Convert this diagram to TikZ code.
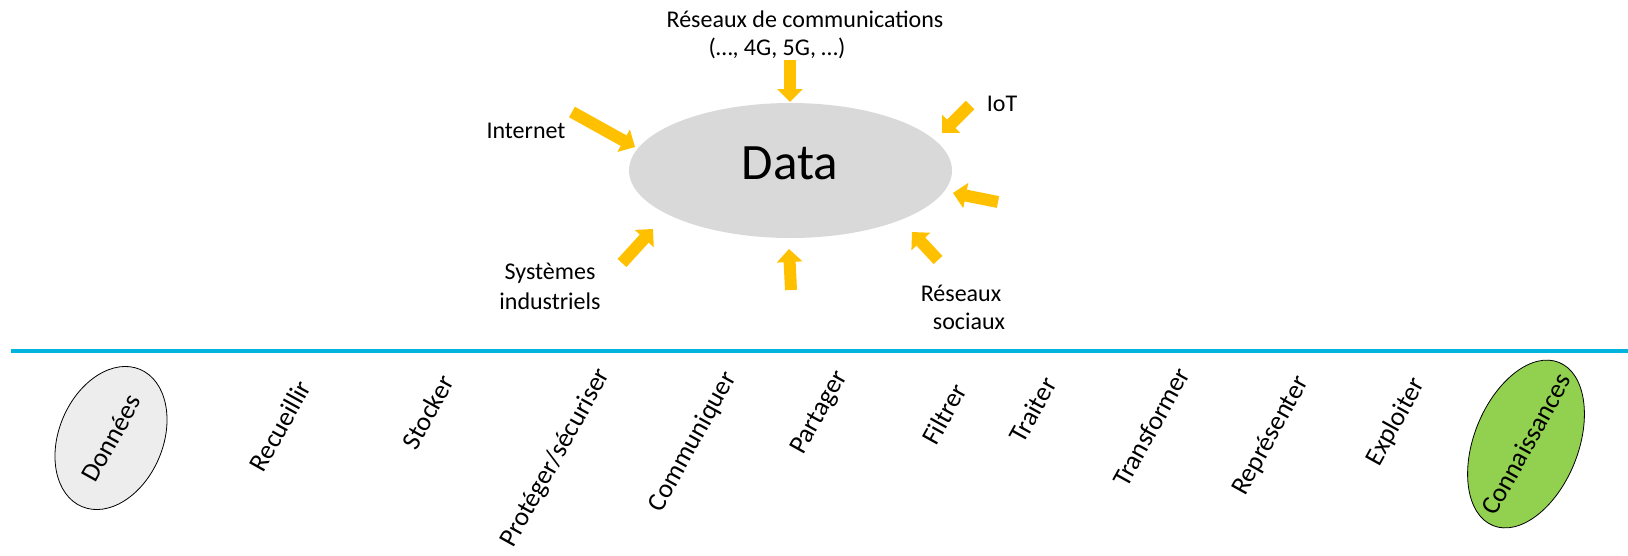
\documentclass[tikz,border=0pt]{standalone}
\usepackage{fontspec}
\setmainfont{Carlito}
\usetikzlibrary{shapes.geometric,arrows.meta}
\definecolor{arrowyellow}{RGB}{255,192,0}
\definecolor{datagray}{RGB}{217,217,217}
\definecolor{dongray}{RGB}{237,237,237}
\definecolor{conngreen}{RGB}{146,208,80}
\definecolor{lineblue}{RGB}{0,180,222}
\tikzset{
  lbl/.style={inner sep=0pt, font=\fontsize{24}{29}\selectfont},
  vlbl/.style={inner sep=0pt, rotate=61, font=\fontsize{26.5}{31}\selectfont},
  feed/.style={draw=arrowyellow, line width=12pt, -{Triangle[length=13pt,width=25pt,fill=arrowyellow]}},
}
\begin{document}
\begin{tikzpicture}[x=1pt,y=-1pt]
\useasboundingbox (0,0) rectangle (1628,555);
% central ellipse
\node[ellipse, fill=datagray, inner sep=0pt, minimum width=323pt, minimum height=135pt] (data) at (790.5,170.5) {};
\node[inner sep=0pt, font=\fontsize{51}{60}\selectfont] (datatxt) at (790,163) {Data};
% source labels
\node[lbl] (res1) at (805,19) {Réseaux de communications};
\node[lbl] (res2) at (777,48) {(…, 4G, 5G, …)};
\node[lbl] (internet) at (526,131) {Internet};
\node[lbl] (iot) at (1002,104) {IoT};
\node[lbl] (sys1) at (550,273) {Systèmes};
\node[lbl] (sys2) at (550,301) {industriels};
\node[lbl] (soc1) at (961,293) {Réseaux};
\node[lbl] (soc2) at (969,321) {sociaux};
% arrow ends
\coordinate (a1t) at (790,60);   \coordinate (a1h) at (790,102);
\coordinate (a2t) at (572,112);  \coordinate (a2h) at (635,147);
\coordinate (a3t) at (970,105);  \coordinate (a3h) at (942,133);
\coordinate (a4t) at (998,202);  \coordinate (a4h) at (953,193);
\coordinate (a5t) at (938,260);  \coordinate (a5h) at (912,232);
\coordinate (a6t) at (791,290);  \coordinate (a6h) at (789,249);
\coordinate (a7t) at (622,263);  \coordinate (a7h) at (653,229);
\foreach \i in {1,...,7} { \draw[feed] (a\i t) -- (a\i h); }
% timeline
\coordinate (lineL) at (11,350.5);
\coordinate (lineR) at (1628,350.5);
\draw[lineblue, line width=4pt] (lineL) -- (lineR);
% end ellipses
\node[ellipse, draw=black, line width=0.8pt, fill=dongray, inner sep=0pt, rotate=67, minimum width=149pt, minimum height=104pt] (don) at (111,438) {};
\node[vlbl] (dontxt) at (don) {Données};
\node[ellipse, draw=black, line width=0.8pt, fill=conngreen, inner sep=0pt, rotate=68, minimum width=176pt, minimum height=104pt] (conn) at (1526,444) {};
\node[vlbl] (conntxt) at (conn) {Connaissances};
% steps
\node[vlbl] (s1) at (280,426) {Recueillir};
\node[vlbl] (s2) at (428,412) {Stocker};
\node[vlbl] (s3) at (556,458) {Protéger/sécuriser};
\node[vlbl] (s4) at (693,442) {Communiquer};
\node[vlbl] (s5) at (820,413) {Partager};
\node[vlbl] (s6) at (944,414) {Filtrer};
\node[vlbl] (s7) at (1033,410) {Traiter};
\node[vlbl] (s8) at (1151,427) {Transformer};
\node[vlbl] (s9) at (1271,436) {Représenter};
\node[vlbl] (s10) at (1396,422) {Exploiter};
\end{tikzpicture}
\end{document}
